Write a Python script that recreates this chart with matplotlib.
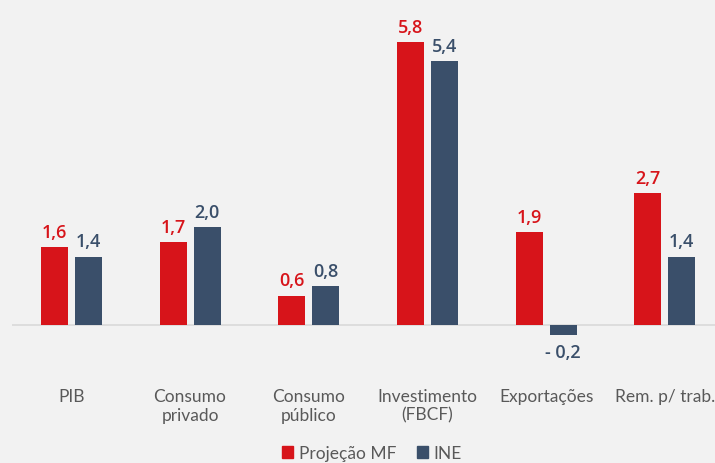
import matplotlib
matplotlib.use("Agg")
import matplotlib.pyplot as plt
from matplotlib.patches import Patch
import numpy as np

categories = ["PIB", "Consumo\nprivado", "Consumo\npúblico", "Investimento\n(FBCF)", "Exportações", "Rem. p/ trab."]
proj_mf = [1.6, 1.7, 0.6, 5.8, 1.9, 2.7]
ine = [1.4, 2.0, 0.8, 5.4, -0.2, 1.4]
series_names = ["Projeção MF", "INE"]

RED = "#D7141A"
BLUE = "#3A4F6A"
BG = "#F2F2F2"
TXT = "#595959"

plt.rcParams['font.family'] = ['Lato', 'DejaVu Sans']
VAL_FONT = ['Open Sans', 'DejaVu Sans']

W, H = 715, 464
fig = plt.figure(figsize=(W / 100, H / 100), dpi=100, facecolor=BG)
slot = 118.7
left_px = 12
ax = fig.add_axes([left_px / W, 0, 6 * slot / W, 1])
ax.set_facecolor(BG)
for s in ax.spines.values():
    s.set_visible(False)
ax.set_xticks([])
ax.set_yticks([])

ppu = 48.8
zero_px = 326
ax.set_ylim(-(H - zero_px) / ppu, zero_px / ppu)
ax.set_xlim(-0.5, 5.5)

x = np.arange(len(categories))
bw = 27 / slot
off = 17 / slot
b1 = ax.bar(x - off, proj_mf, bw, color=RED, zorder=3)
b2 = ax.bar(x + off, ine, bw, color=BLUE, zorder=3)
ax.axhline(0, color="#D9D9D9", lw=1.2, zorder=2)

def fmt(v):
    s = f"{abs(v):.1f}".replace(".", ",")
    return ("- " + s) if v < 0 else s

for bars, vals, col in ((b1, proj_mf, RED), (b2, ine, BLUE)):
    for b, v in zip(bars, vals):
        cx = b.get_x() + b.get_width() / 2
        if v >= 0:
            ax.annotate(fmt(v), (cx, v), xytext=(0, 4.5), textcoords="offset points",
                        ha="center", va="bottom", color=col, fontsize=13, fontweight="semibold",
                        family=VAL_FONT)
        else:
            ax.annotate(fmt(v), (cx, v), xytext=(0, -6), textcoords="offset points",
                        ha="center", va="top", color=col, fontsize=13, fontweight="semibold",
                        family=VAL_FONT)

for xi, c in zip(x, categories):
    ax.text(xi, -(389 - zero_px) / ppu, c, ha="center", va="top", color=TXT,
            fontsize=12.5, linespacing=1.2)

handles = [Patch(color=RED), Patch(color=BLUE)]
fig.legend(handles, series_names, loc="lower center", bbox_to_anchor=(0.52, -0.03), ncol=2,
           frameon=False, fontsize=12.5, labelcolor=TXT, handlelength=0.65, handleheight=0.65,
           handletextpad=0.3, columnspacing=1.2)

fig.savefig("out.png", dpi=100, facecolor=BG)
